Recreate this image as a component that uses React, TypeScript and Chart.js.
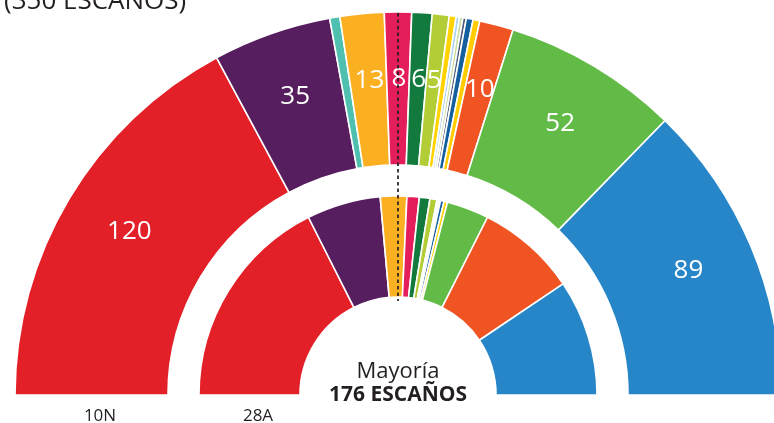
import React, { useEffect, useRef } from "react";
import { Chart, registerables } from "chart.js";

Chart.register(...registerables);

const parties10N = ["PSOE", "Unidas Podemos", "Más País", "ERC", "JxCat", "PNV", "EH Bildu", "CC", "BNG", "PRC", "Teruel Existe", "NA+", "CUP", "Cs", "Vox", "PP"];
const seats10N = [120, 35, 3, 13, 8, 6, 5, 2, 1, 1, 1, 2, 2, 10, 52, 89];
const colors10N = ["#e32028", "#561e5e", "#4fbfb0", "#fbb022", "#e41e5a", "#137a3e", "#b2cd36", "#ffd200", "#a8d0ea", "#c9dca0", "#4a5a7a", "#14609e", "#ffcc00", "#f05423", "#62bb47", "#2686c8"];

const parties28A = ["PSOE", "Unidas Podemos", "ERC", "JxCat", "PNV", "EH Bildu", "Compromís", "PRC", "NA+", "CC", "Vox", "Cs", "PP"];
const seats28A = [123, 42, 15, 7, 6, 4, 1, 1, 2, 2, 24, 57, 66];
const colors28A = ["#e32028", "#561e5e", "#fbb022", "#e41e5a", "#137a3e", "#b2cd36", "#cfe9e6", "#d6e6b8", "#14609e", "#ffd200", "#62bb47", "#f05423", "#2686c8"];

const totalSeats = 350;
const majority = 176;
const titleText = "(350 ESCAÑOS)";
const ringLabels = ["10N", "28A"];
const minLabelSeats = 5;

const overlayPlugin = {
  id: "overlay",
  afterDatasetsDraw(chart: any) {
    const ctx = chart.ctx;
    const meta = chart.getDatasetMeta(0);
    ctx.save();
    // seat labels on outer ring
    ctx.fillStyle = "#ffffff";
    ctx.font = '26px "Open Sans"';
    ctx.textAlign = "center";
    ctx.textBaseline = "middle";
    meta.data.forEach((arc: any, i: number) => {
      const v = seats10N[i];
      if (v < minLabelSeats) return;
      const p = arc.getProps(["x", "y", "startAngle", "endAngle", "innerRadius", "outerRadius"], true);
      const a = (p.startAngle + p.endAngle) / 2;
      const r = p.innerRadius + 0.55 * (p.outerRadius - p.innerRadius);
      ctx.fillText(String(v), p.x + Math.cos(a) * r + 1, p.y + Math.sin(a) * r - 2);
    });
    // majority dashed line
    const p0 = meta.data[0].getProps(["x", "y", "outerRadius"], true);
    const inner = chart.getDatasetMeta(2).data[0].getProps(["innerRadius"], true).innerRadius;
    const ang = Math.PI + Math.PI * ((majority - 1) / totalSeats);
    ctx.strokeStyle = "#231f20";
    ctx.lineWidth = 1.7;
    ctx.setLineDash([3.5, 3]);
    ctx.beginPath();
    ctx.moveTo(p0.x + Math.cos(ang) * (p0.outerRadius - 1), p0.y + Math.sin(ang) * (p0.outerRadius - 1));
    ctx.lineTo(p0.x + Math.cos(ang) * (inner - 4), p0.y + Math.sin(ang) * (inner - 4));
    ctx.stroke();
    ctx.setLineDash([]);
    // center text
    ctx.fillStyle = "#231f20";
    ctx.textBaseline = "alphabetic";
    ctx.font = '22px "Open Sans"';
    ctx.fillText("Mayoría", p0.x, p0.y - 17);
    ctx.font = 'bold 21px "Open Sans"';
    ctx.fillText(majority + " ESCAÑOS", p0.x, p0.y + 6);
    // ring labels
    ctx.font = '17px "Open Sans"';
    ctx.fillText(ringLabels[0], p0.x - 298, p0.y + 26);
    ctx.fillText(ringLabels[1], p0.x - 140, p0.y + 26);
    // title (cut off at top)
    ctx.textAlign = "left";
    ctx.font = '26px "Open Sans"';
    ctx.fillText(titleText, 4, 9);
    ctx.restore();
  },
};

export default function App() {
  const ref = useRef<HTMLCanvasElement>(null);
  useEffect(() => {
    if (!ref.current) return;
    const chart = new Chart(ref.current, {
      type: "doughnut",
      data: {
        labels: parties10N,
        datasets: [
          { label: "10N", data: seats10N, backgroundColor: colors10N, borderColor: "#ffffff", borderWidth: 1.6, weight: 153 } as any,
          { label: "spacer", data: [totalSeats], backgroundColor: ["rgba(0,0,0,0)"], borderWidth: 0, weight: 31 } as any,
          { label: "28A", data: seats28A, backgroundColor: colors28A, borderColor: "#ffffff", borderWidth: 1.6, weight: 101 } as any,
        ],
      },
      options: {
        responsive: false,
        maintainAspectRatio: false,
        animation: false,
        devicePixelRatio: 1,
        rotation: -90,
        circumference: 180,
        radius: 383,
        cutout: "25.6%",
        layout: { padding: { left: 0, right: 0, top: 0, bottom: 23 } },
        plugins: { legend: { display: false }, tooltip: { enabled: false } },
        events: [],
      } as any,
      plugins: [overlayPlugin],
    });
    return () => chart.destroy();
  }, []);
  return (
    <div style={{ position: "fixed", left: 0, top: 0, width: 774, height: 423, overflow: "hidden", background: "#ffffff" }}>
      <canvas ref={ref} width={796} height={430} style={{ position: "absolute", left: 0, top: 0 }} />
    </div>
  );
}
